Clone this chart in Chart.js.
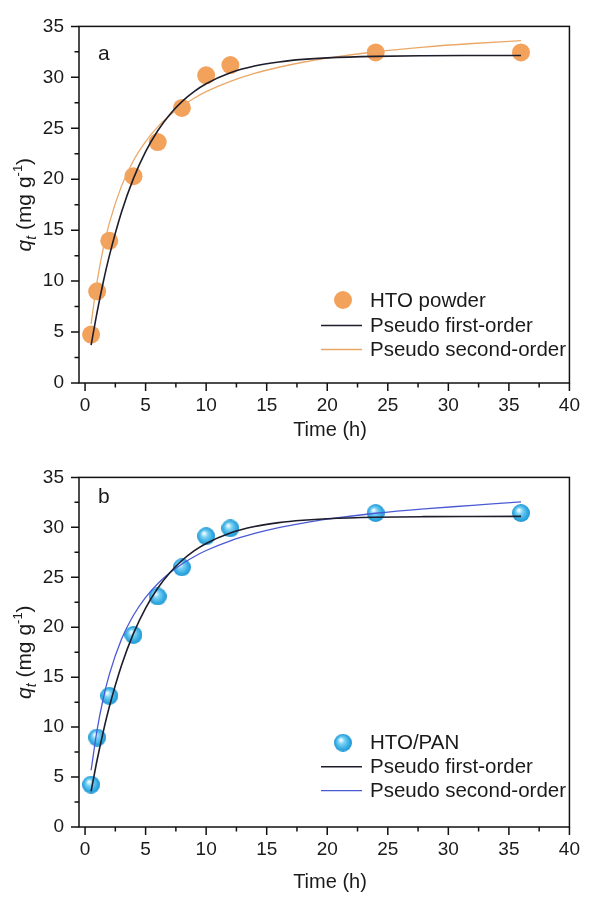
<!DOCTYPE html>
<html>
<head>
<meta charset="utf-8">
<script src="https://cdn.jsdelivr.net/npm/chart.js@4.4.1/dist/chart.umd.min.js"></script>
<style>
  body { margin: 0; background: #fff; }
  canvas { display: block; }
</style>
</head>
<body>
<canvas id="chartA" width="591" height="451"></canvas>
<canvas id="chartB" width="591" height="451"></canvas>
<script>
// measured points (h, mg/g)
const timePts = [0.5, 1, 2, 4, 6, 8, 10, 12, 24, 36]
const qPowder = [4.75, 9.0, 13.95, 20.3, 23.65, 27.0, 30.2, 31.2, 32.45, 32.45]
const qPan = [4.24, 8.96, 13.13, 19.23, 23.08, 26.0, 29.12, 29.9, 31.43, 31.43]

// fitted curves
const fitTime = [0.5, 1, 1.5, 2, 3, 4, 5, 6, 7, 8, 9, 10, 12, 14, 16, 18, 20, 24, 28, 32, 36]
const powderFirst = [3.71, 6.99, 9.89, 12.45, 16.73, 20.08, 22.70, 24.76, 26.36, 27.62, 28.60, 29.37, 30.45, 31.11, 31.51, 31.76, 31.91, 32.06, 32.12, 32.14, 32.15]
const powderSecond = [5.81, 10.01, 13.18, 15.67, 19.30, 21.84, 23.70, 25.14, 26.27, 27.19, 27.95, 28.60, 29.61, 30.39, 30.99, 31.48, 31.88, 32.51, 32.97, 33.32, 33.60]
const panFirst = [3.58, 6.73, 9.53, 12.01, 16.14, 19.38, 21.92, 23.91, 25.46, 26.68, 27.64, 28.39, 29.44, 30.08, 30.47, 30.71, 30.86, 31.01, 31.07, 31.09, 31.10]
const panSecond = [5.68, 9.76, 12.84, 15.25, 18.76, 21.20, 22.99, 24.36, 25.45, 26.33, 27.06, 27.68, 28.65, 29.39, 29.97, 30.43, 30.82, 31.41, 31.85, 32.20, 32.55]

// axis ticks
const xTicks = [0, 5, 10, 15, 20, 25, 30, 35, 40]
const xMinor = [2.5, 7.5, 12.5, 17.5, 22.5, 27.5, 32.5, 37.5]
const yTicks = [0, 5, 10, 15, 20, 25, 30, 35]
const yMinor = [2.5, 7.5, 12.5, 17.5, 22.5, 27.5, 32.5]

const FONT = '"Liberation Sans", Arial, Helvetica, sans-serif'
const INK = '#1a1a1a'
const BLACK_LINE = '#1d1d2b'
const ORANGE = '#f3a25c'
const ORANGE_LINE = '#eaa868'
const BLUE_LINE = '#4a5ad4'

function pairs(xs, ys) {
  return xs.map((x, i) => ({ x: x, y: ys[i] }))
}

// shaded blue ball used as point style
function ballImage(r) {
  const c = document.createElement('canvas')
  c.width = c.height = r * 2
  const g = c.getContext('2d')
  const grad = g.createRadialGradient(r * 0.75, r * 0.68, r * 0.1, r, r, r)
  grad.addColorStop(0, '#eafaff')
  grad.addColorStop(0.3, '#7ad0f4')
  grad.addColorStop(0.75, '#33abe2')
  grad.addColorStop(1, '#2095d2')
  g.fillStyle = grad
  g.beginPath()
  g.arc(r, r, r, 0, Math.PI * 2)
  g.fill()
  return c
}
const ball = ballImage(9)

function drawYTitle(ctx, cx, cy) {
  const parts = [
    { t: 'q', f: 'italic 21px ' + FONT, dy: 0 },
    { t: 't', f: 'italic 14px ' + FONT, dy: 5 },
    { t: ' (mg g', f: '21px ' + FONT, dy: 0 },
    { t: '-1', f: '13px ' + FONT, dy: -9 },
    { t: ')', f: '21px ' + FONT, dy: 0 }
  ]
  ctx.save()
  ctx.translate(cx, cy)
  ctx.rotate(-Math.PI / 2)
  ctx.textAlign = 'left'
  ctx.textBaseline = 'alphabetic'
  let total = 0
  parts.forEach(p => { ctx.font = p.f; p.w = ctx.measureText(p.t).width; total += p.w })
  let px = -total / 2
  ctx.fillStyle = INK
  parts.forEach(p => {
    ctx.font = p.f
    ctx.fillText(p.t, px, 7 + p.dy)
    px += p.w
  })
  ctx.restore()
}

const framePlugin = {
  id: 'frame',
  afterDraw(chart, args, opts) {
    const { ctx, chartArea: a, scales } = chart
    const x = scales.x, y = scales.y
    ctx.save()
    ctx.strokeStyle = '#111'
    ctx.lineWidth = 1.5
    ctx.strokeRect(a.left, a.top, a.right - a.left, a.bottom - a.top)

    ctx.beginPath()
    xTicks.forEach(v => { const p = x.getPixelForValue(v); ctx.moveTo(p, a.bottom); ctx.lineTo(p, a.bottom + 8) })
    xMinor.forEach(v => { const p = x.getPixelForValue(v); ctx.moveTo(p, a.bottom); ctx.lineTo(p, a.bottom + 4.5) })
    yTicks.forEach(v => { const p = y.getPixelForValue(v); ctx.moveTo(a.left, p); ctx.lineTo(a.left - 8, p) })
    yMinor.forEach(v => { const p = y.getPixelForValue(v); ctx.moveTo(a.left, p); ctx.lineTo(a.left - 4.5, p) })
    ctx.stroke()

    // panel letter
    ctx.fillStyle = INK
    ctx.font = '21px ' + FONT
    ctx.textBaseline = 'alphabetic'
    ctx.textAlign = 'left'
    ctx.fillText(opts.letter, 98, opts.letterY)

    // x title
    ctx.font = '20px ' + FONT
    ctx.textAlign = 'center'
    ctx.textBaseline = 'middle'
    ctx.fillText('Time (h)', 330, opts.xTitleY)

    drawYTitle(ctx, 24, (a.top + a.bottom) / 2)

    // legend
    const ds = chart.data.datasets
    ctx.textAlign = 'left'
    ctx.textBaseline = 'middle'
    ctx.font = '20.5px ' + FONT
    opts.legendRows.forEach((rowY, i) => {
      const d = ds[i]
      if (d.type === 'scatter') {
        if (d.pointStyle instanceof HTMLCanvasElement) {
          ctx.drawImage(d.pointStyle, 343 - 9, rowY - 9)
        } else {
          ctx.fillStyle = d.backgroundColor
          ctx.beginPath()
          ctx.arc(343, rowY, 9, 0, Math.PI * 2)
          ctx.fill()
        }
      } else {
        ctx.strokeStyle = d.borderColor
        ctx.lineWidth = d.borderWidth
        ctx.beginPath()
        ctx.moveTo(321, rowY)
        ctx.lineTo(362, rowY)
        ctx.stroke()
      }
      ctx.fillStyle = INK
      ctx.fillText(d.label, 370, rowY + 1)
    })
    ctx.restore()
  }
}

function makeChart(id, pts, first, second, style) {
  const pointDs = {
    type: 'scatter',
    label: style.name,
    data: pairs(timePts, pts),
    pointRadius: 9,
    pointHoverRadius: 9,
    borderWidth: 0,
    backgroundColor: style.pointColor,
    order: 3
  }
  if (style.pointStyle) pointDs.pointStyle = style.pointStyle

  return new Chart(document.getElementById(id), {
    data: {
      datasets: [
        pointDs,
        {
          type: 'line',
          label: 'Pseudo first-order',
          data: pairs(fitTime, first),
          borderColor: BLACK_LINE,
          borderWidth: 1.6,
          pointRadius: 0,
          cubicInterpolationMode: 'monotone',
          order: 1
        },
        {
          type: 'line',
          label: 'Pseudo second-order',
          data: pairs(fitTime, second),
          borderColor: style.lineColor,
          borderWidth: 1.3,
          pointRadius: 0,
          cubicInterpolationMode: 'monotone',
          order: 2
        }
      ]
    },
    options: {
      responsive: false,
      animation: false,
      layout: { padding: { top: style.top, right: 13, left: 0, bottom: 0 } },
      plugins: {
        legend: { display: false },
        tooltip: { enabled: false },
        frame: { letter: style.letter, letterY: style.letterY, xTitleY: style.xTitleY, legendRows: style.legendRows }
      },
      scales: {
        x: {
          type: 'linear',
          min: -0.5,
          max: 40,
          afterBuildTicks: s => { s.ticks = xTicks.map(v => ({ value: v })) },
          afterFit: s => { s.height = style.xHeight },
          grid: { display: false, drawTicks: false },
          border: { display: false },
          ticks: { font: { family: FONT, size: 19 }, color: INK, padding: 11, maxRotation: 0, autoSkip: false }
        },
        y: {
          type: 'linear',
          min: 0,
          max: 35,
          afterBuildTicks: s => { s.ticks = yTicks.map(v => ({ value: v })) },
          afterFit: s => { s.width = 79 },
          grid: { display: false, drawTicks: false },
          border: { display: false },
          ticks: { font: { family: FONT, size: 19 }, color: INK, padding: 15, autoSkip: false }
        }
      }
    },
    plugins: [framePlugin]
  })
}

makeChart('chartA', qPowder, powderFirst, powderSecond, {
  name: 'HTO powder', pointColor: ORANGE, lineColor: ORANGE_LINE,
  letter: 'a', letterY: 60, xTitleY: 430, top: 19, xHeight: 68,
  legendRows: [300, 325.5, 349.5]
})

makeChart('chartB', qPan, panFirst, panSecond, {
  name: 'HTO/PAN', pointColor: '#33abe2', pointStyle: ball, lineColor: BLUE_LINE,
  letter: 'b', letterY: 52, xTitleY: 431, top: 13, xHeight: 75,
  legendRows: [291.7, 315.7, 339.7]
})
</script>
</body>
</html>
